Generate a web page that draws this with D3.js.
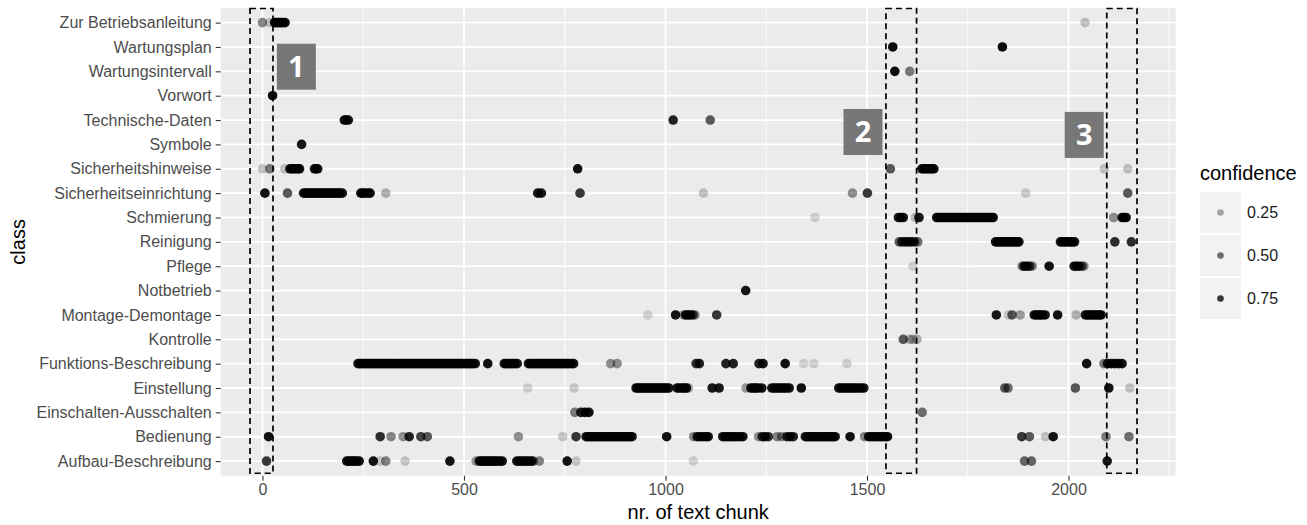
<!DOCTYPE html>
<html lang="en">
<head>
<meta charset="UTF-8">
<title>Class per text chunk</title>
<script src="https://cdn.jsdelivr.net/npm/d3@7"></script>
<style>
  body { margin: 0; background: #fff; font-family: "Liberation Sans", Arial, sans-serif; }
  svg { display: block; }
</style>
</head>
<body>
<svg width="1307" height="525"></svg>
<script>
// classes, top to bottom as on the y axis
const classes = [
  "Zur Betriebsanleitung", "Wartungsplan", "Wartungsintervall", "Vorwort",
  "Technische-Daten", "Symbole", "Sicherheitshinweise", "Sicherheitseinrichtung",
  "Schmierung", "Reinigung", "Pflege", "Notbetrieb", "Montage-Demontage",
  "Kontrolle", "Funktions-Beschreibung", "Einstellung", "Einschalten-Ausschalten",
  "Bedienung", "Aufbau-Beschreibung"
];

// [text chunk nr, confidence]
const zurBetriebsanleitung = [[0,.4],[18,.12],[30,.93],[35,.93],[40,.93],[45,.93],[50,.93],[56,.93],[2041,.12]];
const wartungsplan = [[1564,.95],[1836,.95]];
const wartungsintervall = [[1569,.95],[1606,.45]];
const vorwort = [[25,.95]];
const technischeDaten = [[203,.9],[208,.9],[213,.9],[1019,.85],[1111,.6]];
const symbole = [[97,.9]];
const sicherheitshinweise = [[0,.12],[18,.45],[55,.12],[68,.9],[73,.9],[78,.9],[83,.9],[88,.9],[92,.9],
  [129,.9],[133,.9],[137,.9],[782,.92],[1558,.6],
  [1636,.9],[1641,.9],[1646,.9],[1651,.9],[1656,.9],[1661,.9],[1666,.9],[2089,.12],[2147,.12]];
const sicherheitseinrichtung = [[6,.92],[62,.6],[102,.9],[107,.9],[112,.9],[117,.9],[122,.9],[127,.9],[132,.9],
  [137,.9],[142,.9],[147,.9],[152,.9],[157,.9],[162,.9],[167,.9],[172,.9],[177,.9],[182,.9],[187,.9],[192,.9],[198,.9],
  [244,.9],[249,.9],[254,.9],[262,.9],[267,.9],[306,.2],[683,.9],[692,.9],[788,.75],
  [1094,.12],[1464,.35],[1501,.75],[1894,.08],[2147,.6]];
const schmierung = [[1371,.05],[1578,.9],[1584,.9],[1590,.9],[1620,.15],[1629,.9],
  [1673,.93],[1678,.93],[1683,.93],[1688,.93],[1693,.93],[1698,.93],[1703,.93],[1708,.93],[1713,.93],[1718,.93],
  [1723,.93],[1728,.93],[1733,.93],[1738,.93],[1743,.93],[1748,.93],[1753,.93],[1758,.93],[1763,.93],[1768,.93],
  [1773,.93],[1778,.93],[1783,.93],[1788,.93],[1793,.93],[1798,.93],[1803,.93],[1808,.93],[1813,.93],
  [2112,.35],[2133,.9],[2138,.9],[2143,.9]];
const reinigung = [[1580,.6],[1587,.8],[1595,.9],[1602,.8],[1610,.9],[1618,.7],[1626,.5],
  [1819,.9],[1824,.9],[1829,.9],[1834,.9],[1839,.9],[1844,.9],[1849,.9],[1854,.9],[1859,.9],[1864,.9],[1869,.9],[1873,.9],[1877,.9],
  [1980,.9],[1985,.9],[1990,.9],[1995,.9],[2000,.9],[2005,.9],[2010,.9],[2015,.9],[2115,.8],[2156,.8]];
const pflege = [[1614,.05],[1885,.4],[1890,.9],[1897,.9],[1904,.7],[1910,.4],[1952,.92],
  [2014,.9],[2020,.9],[2026,.9],[2033,.6],[2038,.4]];
const notbetrieb = [[1199,.9]];
const montageDemontage = [[956,.05],[1025,.92],[1045,.3],[1050,.9],[1056,.9],[1062,.9],[1068,.7],[1073,.4],[1127,.75],
  [1821,.9],[1851,.1],[1860,.6],[1880,.3],[1915,.9],[1920,.9],[1925,.9],[1930,.9],[1935,.9],[1942,.9],[1973,.92],
  [2019,.2],[2042,.9],[2047,.9],[2052,.9],[2057,.9],[2062,.9],[2067,.9],[2072,.9],[2077,.9],[2081,.9]];
const kontrolle = [[1590,.6],[1606,.2],[1614,.25],[1624,.2]];
const funktionsBeschreibung = [
  [237,.9],[242,.9],[247,.9],[252,.9],[257,.9],[262,.9],[267,.9],[272,.9],[277,.9],[282,.9],[287,.9],[292,.9],
  [297,.9],[302,.9],[307,.9],[312,.9],[317,.9],[322,.9],[327,.9],[332,.9],[337,.9],[342,.9],[347,.9],[352,.9],
  [357,.9],[362,.9],[367,.9],[372,.9],[377,.9],[382,.9],[387,.9],[392,.9],[397,.9],[402,.9],[407,.9],[412,.9],
  [417,.9],[422,.9],[427,.9],[432,.9],[437,.9],[442,.9],[447,.9],[452,.9],[457,.9],[462,.9],[467,.9],[472,.9],
  [477,.9],[482,.9],[487,.9],[492,.9],[497,.9],[502,.9],[507,.9],[512,.9],[517,.9],[522,.9],[528,.9],
  [559,.92],[600,.9],[605,.9],[610,.9],[616,.9],[621,.9],[626,.9],[632,.9],
  [660,.9],[665,.9],[670,.9],[675,.9],[680,.9],[685,.9],[690,.9],[695,.9],[700,.9],[705,.9],[710,.9],[715,.9],
  [720,.9],[725,.9],[730,.9],[735,.9],[740,.9],[745,.9],[750,.9],[755,.9],[760,.9],[766,.9],[772,.9],
  [864,.35],[880,.35],[1076,.8],[1084,.85],[1150,.85],[1168,.85],[1232,.85],[1242,.9],[1297,.92],
  [1343,.05],[1368,.05],[1450,.05],[2045,.92],[2088,.45],[2097,.9],[2106,.9],[2115,.9],[2124,.9],[2133,.9]];
const einstellung = [[658,.05],[773,.08],
  [927,.9],[932,.9],[937,.9],[942,.9],[947,.9],[952,.9],[957,.9],[962,.9],[967,.9],[972,.9],[977,.9],[982,.9],
  [987,.9],[992,.9],[997,.9],[1002,.9],[1008,.9],[1029,.9],[1035,.9],[1041,.9],[1047,.9],[1052,.9],[1057,.2],
  [1116,.9],[1133,.9],[1200,.3],[1212,.9],[1218,.9],[1224,.9],[1230,.9],[1239,.9],
  [1264,.9],[1270,.9],[1276,.9],[1282,.9],[1288,.9],[1294,.9],[1300,.9],[1307,.9],[1337,.92],
  [1430,.9],[1436,.9],[1442,.9],[1448,.9],[1454,.9],[1460,.9],[1466,.9],[1472,.9],[1478,.9],[1485,.9],[1492,.9],
  [1842,.6],[1850,.5],[2017,.6],[2100,.92],[2152,.12]];
const einschaltenAusschalten = [[775,.45],[790,.85],[800,.92],[810,.92],[1637,.5]];
const bedienung = [[15,.92],[292,.8],[319,.4],[349,.35],[364,.85],[393,.7],[409,.6],[635,.35],[745,.1],[778,.75],
  [803,.9],[808,.9],[813,.9],[818,.9],[823,.9],[828,.9],[833,.9],[838,.9],[843,.9],[848,.9],[853,.9],[858,.9],
  [863,.9],[868,.9],[873,.9],[878,.9],[883,.9],[888,.9],[893,.9],[898,.9],[903,.9],[908,.9],[912,.9],[917,.9],
  [1003,.92],[1070,.4],[1079,.9],[1086,.9],[1093,.9],[1100,.9],[1106,.9],
  [1142,.9],[1148,.9],[1154,.9],[1160,.9],[1166,.9],[1172,.9],[1178,.9],[1185,.9],[1192,.9],
  [1231,.35],[1240,.8],[1247,.8],[1255,.8],[1277,.4],[1288,.4],[1301,.8],[1309,.85],[1317,.85],
  [1347,.9],[1352,.9],[1357,.9],[1362,.9],[1367,.9],[1372,.9],[1377,.9],[1382,.9],[1387,.9],[1392,.9],
  [1397,.9],[1402,.9],[1407,.9],[1412,.9],[1416,.9],[1421,.9],[1458,.92],
  [1494,.4],[1504,.9],[1510,.9],[1516,.9],[1522,.9],[1528,.9],[1534,.9],[1540,.9],[1546,.9],[1551,.9],
  [1884,.75],[1903,.6],[1943,.12],[1962,.92],[2093,.45],[2150,.5]];
const aufbauBeschreibung = [[10,.75],[209,.9],[214,.9],[219,.9],[224,.9],[229,.9],[234,.9],[240,.9],
  [275,.92],[292,.1],[306,.4],[354,.1],[465,.92],[530,.3],
  [538,.9],[543,.9],[548,.9],[553,.9],[558,.9],[563,.9],[568,.9],[573,.9],[578,.9],[583,.9],[589,.9],[595,.9],
  [631,.9],[637,.9],[643,.9],[649,.9],[655,.9],[661,.9],[668,.9],[672,.5],[687,.4],[756,.92],[778,.1],
  [1069,.05],[1891,.55],[1908,.55],[2096,.9]];

const series = [zurBetriebsanleitung, wartungsplan, wartungsintervall, vorwort, technischeDaten, symbole,
  sicherheitshinweise, sicherheitseinrichtung, schmierung, reinigung, pflege, notbetrieb, montageDemontage,
  kontrolle, funktionsBeschreibung, einstellung, einschaltenAusschalten, bedienung, aufbauBeschreibung];

// highlighted regions (x range in chunks) and their numbered labels
const boxRanges = [[-31, 26], [1547, 1623], [2095, 2170]];
const boxLabels = ["1", "2", "3"];
const labelX = [84, 1490, 2039];
const labelRow = [1.81, 4.49, 4.61];   // position in class rows, counted from the top

const xTicks = [0, 500, 1000, 1500, 2000];
const xMinor = [250, 750, 1250, 1750, 2250];
const legendValues = [0.25, 0.50, 0.75];

const svg = d3.select("svg");
const panel = { left: 220.7, right: 1175.7, top: 8, bottom: 475.7 };

const x = d3.scaleLinear().domain([-103.7, 2266]).range([panel.left, panel.right]);
const y = d3.scalePoint().domain(classes).range([panel.top, panel.bottom]).padding(0.6);
const yRow = d3.scaleLinear().domain([0, classes.length - 1])
  .range([y(classes[0]), y(classes[classes.length - 1])]);
const alpha = d3.scaleLinear().domain([0, 1]).range([0.1, 1]);

// panel background and grid
svg.append("rect")
  .attr("x", panel.left).attr("y", panel.top)
  .attr("width", panel.right - panel.left).attr("height", panel.bottom - panel.top)
  .attr("fill", "#EBEBEB");

svg.append("g").selectAll("line").data(xMinor).join("line")
  .attr("x1", d => x(d)).attr("x2", d => x(d))
  .attr("y1", panel.top).attr("y2", panel.bottom)
  .attr("stroke", "#fff").attr("stroke-width", 0.9);

svg.append("g").selectAll("line").data(xTicks).join("line")
  .attr("x1", d => x(d)).attr("x2", d => x(d))
  .attr("y1", panel.top).attr("y2", panel.bottom)
  .attr("stroke", "#fff").attr("stroke-width", 1.8);

svg.append("g").selectAll("line").data(classes).join("line")
  .attr("x1", panel.left).attr("x2", panel.right)
  .attr("y1", d => y(d)).attr("y2", d => y(d))
  .attr("stroke", "#fff").attr("stroke-width", 1.8);

// points
const points = [];
series.forEach((s, i) => s.forEach(([chunk, conf]) => points.push({ cls: classes[i], chunk, conf })));

svg.append("g").selectAll("circle").data(points).join("circle")
  .attr("cx", d => x(d.chunk))
  .attr("cy", d => y(d.cls))
  .attr("r", 4.8)
  .attr("fill", "#000")
  .attr("fill-opacity", d => alpha(d.conf));

// dashed boxes
svg.append("g").selectAll("rect").data(boxRanges).join("rect")
  .attr("x", d => x(d[0]))
  .attr("width", d => x(d[1]) - x(d[0]))
  .attr("y", yRow(-0.58))
  .attr("height", yRow(18.5) - yRow(-0.58))
  .attr("fill", "none")
  .attr("stroke", "#000")
  .attr("stroke-width", 1.7)
  .attr("stroke-dasharray", "6,4");

// numbered labels
const lab = svg.append("g").selectAll("g").data(boxLabels).join("g")
  .attr("transform", (d, i) => `translate(${x(labelX[i])},${yRow(labelRow[i])})`);
lab.append("rect")
  .attr("x", -19.5).attr("y", -23).attr("width", 39).attr("height", 46)
  .attr("fill", "#777");
lab.append("text")
  .attr("text-anchor", "middle")
  .attr("dy", "0.36em")
  .attr("fill", "#fff")
  .attr("font-family", "'Open Sans', sans-serif")
  .attr("font-weight", "bold")
  .attr("font-size", 29)
  .text(d => d);

// axes
const yAxis = svg.append("g")
  .attr("transform", `translate(${panel.left},0)`)
  .call(d3.axisLeft(y).tickSize(5).tickPadding(4));
const xAxis = svg.append("g")
  .attr("transform", `translate(0,${panel.bottom})`)
  .call(d3.axisBottom(x).tickValues(xTicks).tickFormat(d3.format("d")).tickSize(5).tickPadding(3));

[xAxis, yAxis].forEach(ax => {
  ax.select(".domain").remove();
  ax.selectAll(".tick line").attr("stroke", "#333").attr("stroke-width", 1.1);
  ax.selectAll(".tick text")
    .attr("fill", "#4D4D4D")
    .attr("font-family", "'Liberation Sans', Arial, sans-serif")
    .attr("font-size", 16);
});

svg.append("text")
  .attr("x", (panel.left + panel.right) / 2).attr("y", 518.5)
  .attr("text-anchor", "middle")
  .attr("font-size", 20)
  .text("nr. of text chunk");

svg.append("text")
  .attr("transform", `translate(25,${(panel.top + panel.bottom) / 2}) rotate(-90)`)
  .attr("text-anchor", "middle")
  .attr("font-size", 20)
  .text("class");

// legend
const legend = svg.append("g").attr("transform", "translate(1200,0)");
legend.append("text")
  .attr("x", 0).attr("y", 179.5)
  .attr("font-size", 20)
  .text("confidence");

const keys = legend.selectAll("g.key").data(legendValues).join("g")
  .attr("class", "key")
  .attr("transform", (d, i) => `translate(0,${192 + i * 43})`);
keys.append("rect")
  .attr("width", 41).attr("height", 41)
  .attr("fill", "#F2F2F2");
keys.append("circle")
  .attr("cx", 20.5).attr("cy", 20.5).attr("r", 3.3)
  .attr("fill", "#000")
  .attr("fill-opacity", d => alpha(d));
keys.append("text")
  .attr("x", 47).attr("y", 20.5).attr("dy", "0.35em")
  .attr("font-size", 16)
  .attr("fill", "#1A1A1A")
  .text(d => d3.format(".2f")(d));
</script>
</body>
</html>
